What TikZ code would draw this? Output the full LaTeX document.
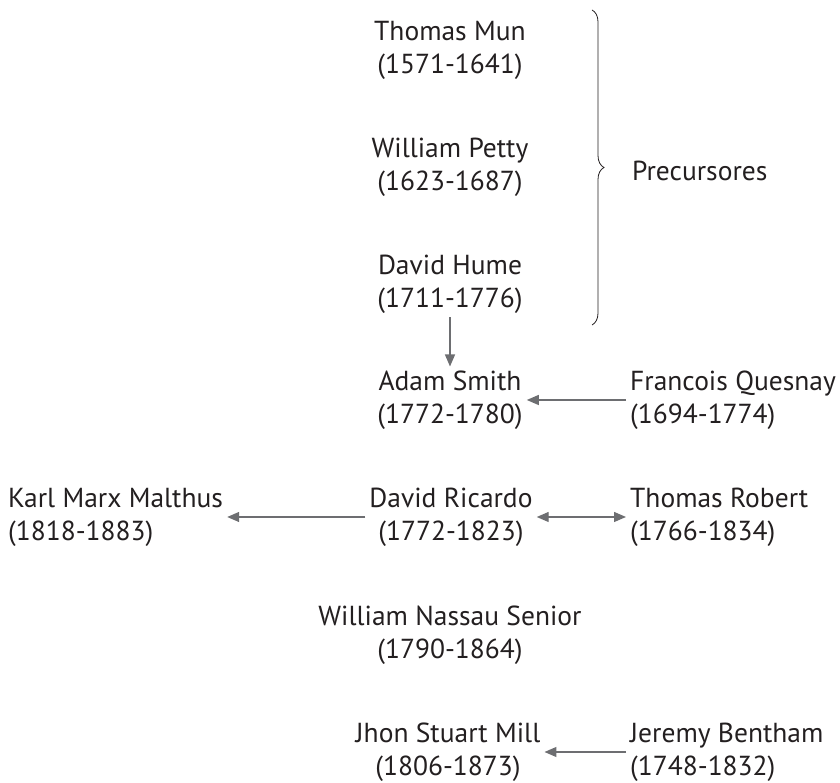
\documentclass[tikz,border=0pt]{standalone}
\usepackage{fontspec}
\setmainfont{PT Sans}
\usetikzlibrary{arrows.meta,decorations.pathreplacing}
\definecolor{txt}{HTML}{231F20}
\definecolor{arr}{HTML}{6D6E71}
\begin{document}
\begin{tikzpicture}[x=1pt,y=1pt,
  person/.style={align=center,inner sep=4pt,text=txt,font=\fontsize{27.5}{33}\selectfont},
  personl/.style={person,align=left,anchor=west},
  link/.style={draw=arr,line width=1.3pt,-{Triangle[length=12pt,width=10pt]}},
  link2/.style={draw=arr,line width=1.3pt,{Triangle[length=12pt,width=10pt]}-{Triangle[length=12pt,width=10pt]}}]
\useasboundingbox (0,0) rectangle (840,783);
\node[person] (mun) at (450,733) {Thomas Mun\\(1571-1641)};
\node[person] (petty) at (450,616) {William Petty\\(1623-1687)};
\node[person] (hume) at (450,499) {David Hume\\(1711-1776)};
\node[person] (smith) at (450,383) {Adam Smith\\(1772-1780)};
\node[personl] (ques) at (626,383) {Francois Quesnay\\(1694-1774)};
\node[personl] (marx) at (4,266) {Karl Marx Malthus\\(1818-1883)};
\node[person] (ric) at (451,266) {David Ricardo\\(1772-1823)};
\node[personl] (rob) at (626,266) {Thomas Robert\\(1766-1834)};
\node[person] (senior) at (450,148) {William Nassau Senior\\(1790-1864)};
\node[person] (mill) at (448,31) {Jhon Stuart Mill\\(1806-1873)};
\node[personl] (bent) at (626,31) {Jeremy Bentham\\(1748-1832)};
\node[personl] (prec) at (628,612) {Precursores};
\coordinate (bt) at (592,773);
\coordinate (bb) at (592,458);
\draw[txt,line width=0.8pt,decorate,decoration={brace,amplitude=12pt}] (bt) -- (bb);
\draw[link] (hume) -- (smith);
\draw[link] (ques) -- (smith);
\draw[link] (ric) -- (marx);
\draw[link2] (ric) -- (rob);
\draw[link] (bent) -- (mill);
\end{tikzpicture}
\end{document}
